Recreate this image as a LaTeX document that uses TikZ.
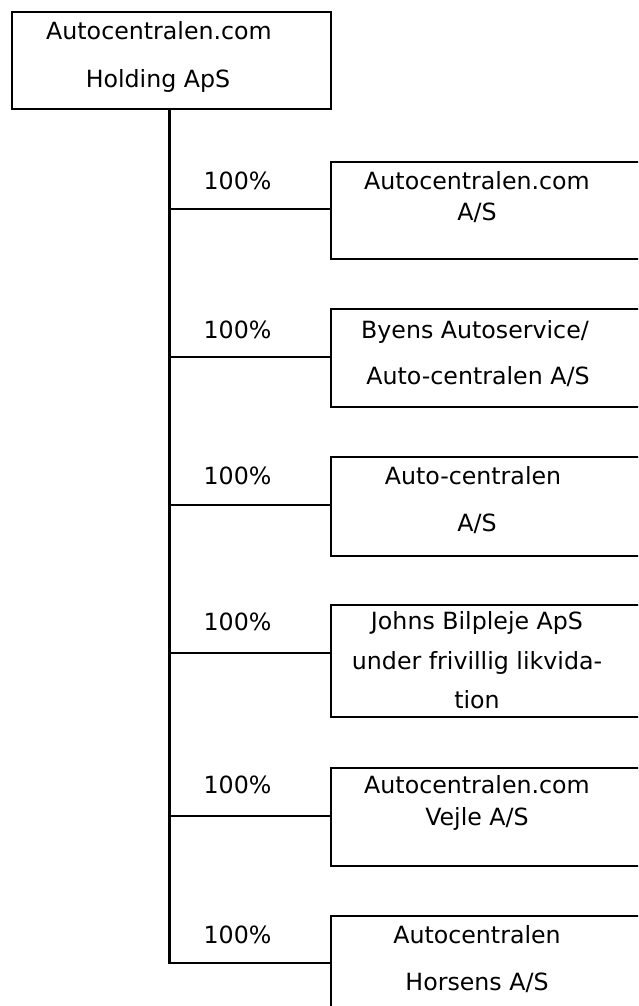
\documentclass[tikz,border=0pt]{standalone}
\usepackage{fontspec}
\setmainfont{DejaVu Sans}
\begin{document}
\begin{tikzpicture}[x=1pt,y=-1pt,line width=2.3pt,
  orgbox/.style={draw,rectangle,inner sep=0pt,minimum width=340pt},
  txt/.style={anchor=base,inner sep=0pt,font=\fontsize{23.7}{27}\selectfont},
  link/.style={draw,line cap=rect}]
\useasboundingbox (0,0) rectangle (638,1006);
\clip (0,0) rectangle (638,1006);
% top box
\node[draw,rectangle,inner sep=0pt,minimum width=319pt,minimum height=97pt] (top) at (171.5,60.5) {};
\node[txt] (topa) at (159,40) {Autocentralen.com};
\node[txt] (topb) at (158,88) {Holding ApS};
% subsidiary boxes
\node[orgbox,minimum height=97.3pt,anchor=north west] (b1) at (330,160.7) {};
\node[orgbox,minimum height=98.3pt,anchor=north west] (b2) at (330,307.7) {};
\node[orgbox,minimum height=99.3pt,anchor=north west] (b3) at (330,455.7) {};
\node[orgbox,minimum height=112pt,anchor=north west] (b4) at (330,604) {};
\node[orgbox,minimum height=98.3pt,anchor=north west] (b5) at (330,766.7) {};
\node[orgbox,minimum height=120pt,anchor=north west] (b6) at (330,915) {};
% texts
\node[txt] (t1a) at (477,189) {Autocentralen.com};
\node[txt] (t1b) at (477,220) {A/S};
\node[txt] (t2a) at (475,338) {Byens Autoservice/};
\node[txt] (t2b) at (478,384) {Auto-centralen A/S};
\node[txt] (t3a) at (473,484) {Auto-centralen};
\node[txt] (t3b) at (477,531) {A/S};
\node[txt] (t4a) at (477,629) {Johns Bilpleje ApS};
\node[txt] (t4b) at (477,669) {under frivillig likvida-};
\node[txt] (t4c) at (477,708) {tion};
\node[txt] (t5a) at (477,793) {Autocentralen.com};
\node[txt] (t5b) at (477,825) {Vejle A/S};
\node[txt] (t6a) at (477,943) {Autocentralen};
\node[txt] (t6b) at (477,990) {Horsens A/S};
% percentages
\node[txt] (p1) at (237.5,189) {100\%};
\node[txt] (p2) at (237.5,338) {100\%};
\node[txt] (p3) at (237.5,484) {100\%};
\node[txt] (p4) at (237.5,630) {100\%};
\node[txt] (p5) at (237.5,793) {100\%};
\node[txt] (p6) at (237.5,943) {100\%};
% trunk
\coordinate (trunktop) at (169.5,109);
\coordinate (h1) at (169.5,209);
\coordinate (h2) at (169.5,356.7);
\coordinate (h3) at (169.5,505);
\coordinate (h4) at (169.5,652.7);
\coordinate (h5) at (169.5,816);
\coordinate (h6) at (169.5,963);
\draw[line cap=rect] (top.south -| trunktop) -- (h6);
\draw (h1) -- (h1 -| b1.west);
\draw (h2) -- (h2 -| b2.west);
\draw (h3) -- (h3 -| b3.west);
\draw (h4) -- (h4 -| b4.west);
\draw (h5) -- (h5 -| b5.west);
\draw (h6) -- (h6 -| b6.west);
\end{tikzpicture}
\end{document}
